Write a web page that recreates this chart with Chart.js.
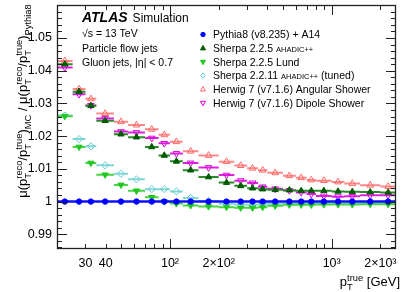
<!DOCTYPE html>
<html lang="en">
  <head>
    <meta charset="UTF-8" />
    <title>Gluon jets response ratio</title>
    <script src="https://cdn.jsdelivr.net/npm/chart.js"></script>
    <style>
      body { margin: 0; background: #fff; }
      canvas { display: block; }
    </style>
  </head>
  <body>
    <canvas id="ratio" width="407" height="292"></canvas>
    <script>
      // pT bins [GeV]
      const binEdges = [20, 25, 30, 35, 45, 55, 70, 85, 100, 120, 150, 200, 250,
        300, 350, 400, 500, 600, 700, 800, 1000, 1200, 1500, 2000, 2500];

      const pythia8 = [1, 1, 1, 1, 1, 1, 1, 1, 1, 1, 1, 1, 1, 1, 1, 1, 1, 1, 1, 1, 1, 1, 1, 1];
      const sherpaAhadic = [1.042, 1.0336, 1.0293, 1.0247, 1.0206, 1.0197, 1.0167, 1.0141,
        1.0123, 1.0096, 1.0075, 1.0058, 1.0048, 1.0041, 1.0038, 1.0036, 1.0035, 1.0033,
        1.0033, 1.0033, 1.0031, 1.003, 1.0029, 1.0028];
      const sherpaLund = [1.0261, 1.0167, 1.0118, 1.0082, 1.0051, 1.0033, 1.0013, 1.0,
        0.9994, 0.9988, 0.9985, 0.9983, 0.9981, 0.9981, 0.9983, 0.9987, 0.999, 0.999,
        0.999, 0.9991, 0.9991, 0.9991, 0.9992, 0.9992];
      const sherpaTuned = [1.0263, 1.0191, 1.0169, 1.0111, 1.0085, 1.0068, 1.0038, 1.0038,
        1.0031, 1.0011, 1.0002, 0.9993, 0.9991, 0.999, 0.9993, 0.9993, 0.9993, 0.9994,
        0.9995, 0.9996, 0.9995, 0.9995, 0.9996, 0.9996];
      const herwigAngular = [1.043, 1.0344, 1.0314, 1.0269, 1.0244, 1.0234, 1.0221, 1.0204,
        1.0183, 1.0154, 1.0141, 1.0122, 1.011, 1.0102, 1.0096, 1.0088, 1.0079, 1.0073,
        1.0066, 1.0064, 1.006, 1.0055, 1.005, 1.0046];
      const herwigDipole = [1.041, 1.0328, 1.0294, 1.0254, 1.0214, 1.0211, 1.0194, 1.0178,
        1.0147, 1.0118, 1.0104, 1.0081, 1.0064, 1.0057, 1.0045, 1.0039, 1.0034, 1.0028,
        1.0023, 1.0017, 1.0015, 1.0016, 1.0019, 1.0019];

      const seriesLabels = [
        "Pythia8 (v8.235) + A14",
        "Sherpa 2.2.5 AHADIC++",
        "Sherpa 2.2.5 Lund",
        "Sherpa 2.2.11 AHADIC++ (tuned)",
        "Herwig 7 (v7.1.6) Angular Shower",
        "Herwig 7 (v7.1.6) Dipole Shower",
      ];

      const xMinorTicks = [20, 30, 40, 50, 60, 70, 80, 90, 100, 200, 300, 400, 500,
        600, 700, 800, 900, 1000, 2000];
      const xTickValues = [30, 40, 100, 200, 1000, 2000];
      const xTickLabels = ["30", "40", "10²", "2×10²", "10³", "2×10³"];
      const yTickValues = [0.99, 1, 1.01, 1.02, 1.03, 1.04, 1.05];
      const yTickLabels = ["0.99", "1", "1.01", "1.02", "1.03", "1.04", "1.05"];

      const FONT = "'Liberation Sans', Arial, Helvetica, sans-serif";

      function toPoints(values) {
        return values.map((v, i) => ({
          x: Math.sqrt(binEdges[i] * binEdges[i + 1]),
          y: v,
        }));
      }

      const styles = [
        { color: "#0000ff", bar: "#1010ff", barWidth: 2.5, point: "circle", rot: 0, fill: true, r: 2.7 },
        { color: "#005a00", bar: "#2a8a2a", barWidth: 2, point: "triangle", rot: 0, fill: true, r: 3.6 },
        { color: "#22c822", bar: "#44d444", barWidth: 2, point: "triangle", rot: 180, fill: true, r: 3.6 },
        { color: "#66cccc", bar: "#80d8d8", barWidth: 2, point: "rectRot", rot: 0, fill: false, r: 3.6 },
        { color: "#ff6666", bar: "#ff8888", barWidth: 2, point: "triangle", rot: 0, fill: false, r: 3.8 },
        { color: "#dd00dd", bar: "#dd22dd", barWidth: 2, point: "triangle", rot: 180, fill: false, r: 3.8 },
      ];
      const allValues = [pythia8, sherpaAhadic, sherpaLund, sherpaTuned, herwigAngular, herwigDipole];

      const datasets = allValues.map((vals, k) => ({
        label: seriesLabels[k],
        data: toPoints(vals),
        values: vals,
        barColor: styles[k].bar,
        barWidth: styles[k].barWidth,
        pointStyle: styles[k].point,
        rotation: styles[k].rot,
        radius: styles[k].r,
        borderColor: styles[k].color,
        backgroundColor: styles[k].fill ? styles[k].color : "rgba(255,255,255,0)",
        borderWidth: 1,
        showLine: false,
      }));

      // horizontal bin-width bars, drawn just before each dataset's markers
      const binBars = {
        id: "binBars",
        beforeDatasetDraw(chart, args) {
          const ds = chart.data.datasets[args.index];
          const { ctx, chartArea: a, scales: { x, y } } = chart;
          ctx.save();
          ctx.beginPath();
          ctx.rect(a.left, a.top, a.right - a.left, a.bottom - a.top);
          ctx.clip();
          ctx.strokeStyle = ds.barColor;
          ctx.lineWidth = ds.barWidth;
          ctx.beginPath();
          ds.values.forEach((v, i) => {
            const py = y.getPixelForValue(v);
            ctx.moveTo(x.getPixelForValue(binEdges[i]), py);
            ctx.lineTo(x.getPixelForValue(binEdges[i + 1]), py);
          });
          ctx.stroke();
          ctx.restore();
        },
      };

      function isDecade(v) {
        return Math.abs(Math.log10(v) - Math.round(Math.log10(v))) < 1e-9;
      }

      // frame and inward ticks on all four sides
      const frameTicks = {
        id: "frameTicks",
        afterDraw(chart) {
          const { ctx, chartArea: a, scales: { x, y } } = chart;
          ctx.save();
          ctx.strokeStyle = "#222";
          ctx.lineWidth = 1;
          ctx.beginPath();
          xMinorTicks.forEach((v) => {
            const px = Math.round(x.getPixelForValue(v)) + 0.5;
            const len = isDecade(v) ? 10 : 5;
            ctx.moveTo(px, a.bottom); ctx.lineTo(px, a.bottom - len);
            ctx.moveTo(px, a.top); ctx.lineTo(px, a.top + len);
          });
          for (let k = 493; k <= 530; k++) {
            const v = k / 500;
            const py = Math.round(y.getPixelForValue(v)) + 0.5;
            const len = k % 5 === 0 ? 10 : 5;
            ctx.moveTo(a.left, py); ctx.lineTo(a.left + len, py);
            ctx.moveTo(a.right, py); ctx.lineTo(a.right - len, py);
          }
          ctx.stroke();
          ctx.lineWidth = 1.3;
          ctx.strokeRect(a.left + 0.5, a.top + 0.5, a.right - a.left - 1, a.bottom - a.top - 1);
          ctx.restore();
        },
      };

      // text with stacked sub/superscripts
      function richWidth(ctx, parts, size) {
        let w = 0;
        parts.forEach((p) => {
          if (p.t) { ctx.font = size + "px " + FONT; w += ctx.measureText(p.t).width; }
          else {
            ctx.font = size * 0.72 + "px " + FONT;
            w += Math.max(ctx.measureText(p.sub || "").width, ctx.measureText(p.sup || "").width);
          }
        });
        return w;
      }
      function drawRich(ctx, parts, x, y, size) {
        ctx.textAlign = "left";
        ctx.textBaseline = "alphabetic";
        parts.forEach((p) => {
          if (p.t) {
            ctx.font = size + "px " + FONT;
            ctx.fillText(p.t, x, y);
            x += ctx.measureText(p.t).width;
          } else {
            ctx.font = size * 0.72 + "px " + FONT;
            let w = 0;
            if (p.sub) { ctx.fillText(p.sub, x, y + size * 0.3); w = ctx.measureText(p.sub).width; }
            if (p.sup) { ctx.fillText(p.sup, x, y - size * 0.42); w = Math.max(w, ctx.measureText(p.sup).width); }
            x += w;
          }
        });
      }

      const yTitle = [
        { t: "μ(p" }, { sub: "T", sup: "reco" }, { t: "/p" }, { sub: "T", sup: "true" }, { t: ")" },
        { sub: "MC" }, { t: " / μ(p" }, { sub: "T", sup: "reco" }, { t: "/p" },
        { sub: "T", sup: "true" }, { t: ")" }, { sub: "Pythia8" },
      ];
      const xTitle = [{ t: "p" }, { sub: "T", sup: "true" }, { t: " [GeV]" }];

      function drawMarker(ctx, st, x, y, r) {
        ctx.save();
        ctx.translate(x, y);
        ctx.rotate((st.rot * Math.PI) / 180);
        ctx.beginPath();
        if (st.point === "circle") ctx.arc(0, 0, r, 0, Math.PI * 2);
        else if (st.point === "triangle") {
          ctx.moveTo(0, -r); ctx.lineTo(r * 0.9, r * 0.6); ctx.lineTo(-r * 0.9, r * 0.6); ctx.closePath();
        } else {
          ctx.moveTo(0, -r); ctx.lineTo(r * 0.75, 0); ctx.lineTo(0, r); ctx.lineTo(-r * 0.75, 0); ctx.closePath();
        }
        ctx.strokeStyle = st.color;
        ctx.lineWidth = 1;
        if (st.fill) { ctx.fillStyle = st.color; ctx.fill(); }
        ctx.stroke();
        ctx.restore();
      }

      const annotations = {
        id: "annotations",
        afterDraw(chart) {
          const { ctx } = chart;
          ctx.save();
          ctx.fillStyle = "#000";
          ctx.textBaseline = "alphabetic";
          ctx.textAlign = "left";
          ctx.font = "italic bold 14px " + FONT;
          ctx.fillText("ATLAS", 82, 22);
          const wAtlas = ctx.measureText("ATLAS").width;
          ctx.font = "12px " + FONT;
          ctx.fillText("Simulation", 82 + wAtlas + 5, 22);
          ctx.font = "10.5px " + FONT;
          ctx.fillText("√s = 13 TeV", 82, 37);
          ctx.fillText("Particle flow jets", 82, 52);
          ctx.fillText("Gluon jets, |η| < 0.7", 82, 66);

          // legend
          seriesLabels.forEach((lab, k) => {
            const yy = 34.5 + k * 13.7;
            drawMarker(ctx, styles[k], 203, yy, styles[k].point === "circle" ? 2.2 : 2.8);
            ctx.fillStyle = "#000";
            let xx = 213;
            lab.split(/(AHADIC\+\+)/).forEach((seg) => {
              if (!seg) return;
              ctx.font = (seg === "AHADIC++" ? "7.5px " : "10.5px ") + FONT;
              ctx.fillText(seg, xx, yy + 3.8);
              xx += ctx.measureText(seg).width;
            });
          });

          // axis titles
          const ySize = 13;
          const yw = richWidth(ctx, yTitle, ySize);
          ctx.save();
          ctx.translate(27, 101);
          ctx.rotate(-Math.PI / 2);
          drawRich(ctx, yTitle, -yw / 2, 0, ySize);
          ctx.restore();

          const xw = richWidth(ctx, xTitle, 13);
          drawRich(ctx, xTitle, 400 - xw, 286, 13);
          ctx.restore();
        },
      };

      new Chart("ratio", {
        type: "scatter",
        data: { datasets: datasets },
        plugins: [binBars, frameTicks, annotations],
        options: {
          responsive: false,
          animation: false,
          devicePixelRatio: 1,
          layout: { padding: { top: 2, right: 11, left: 0, bottom: 0 } },
          plugins: { legend: { display: false }, tooltip: { enabled: false } },
          scales: {
            x: {
              type: "logarithmic",
              min: 20,
              max: 2500,
              grid: { display: false, drawTicks: false },
              border: { display: false },
              afterBuildTicks: (s) => { s.ticks = xMinorTicks.map((v) => ({ value: v })); },
              afterFit: (s) => { s.height = 43; s.paddingLeft = 0; s.paddingRight = 0; },
              ticks: {
                autoSkip: false,
                maxRotation: 0,
                padding: 7,
                color: "#000",
                font: { family: FONT, size: 12.5 },
                callback: (v) => {
                  const i = xTickValues.indexOf(v);
                  return i >= 0 ? xTickLabels[i] : "";
                },
              },
            },
            y: {
              min: 0.9855,
              max: 1.0601,
              grid: { display: false, drawTicks: false },
              border: { display: false },
              afterBuildTicks: (s) => { s.ticks = yTickValues.map((v) => ({ value: v })); },
              afterFit: (s) => { s.width = 57; s.paddingTop = 0; s.paddingBottom = 0; },
              ticks: {
                padding: 5,
                color: "#000",
                font: { family: FONT, size: 12.5 },
                callback: (v) => {
                  const i = yTickValues.findIndex((t) => Math.abs(t - v) < 1e-9);
                  return i >= 0 ? yTickLabels[i] : "";
                },
              },
            },
          },
        },
      });
    </script>
  </body>
</html>
